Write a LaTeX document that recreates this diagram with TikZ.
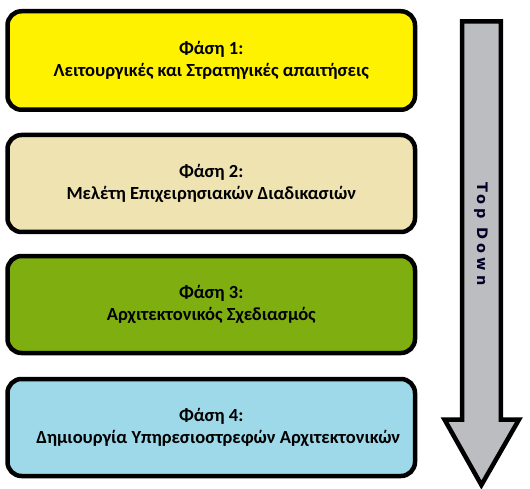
\documentclass[tikz,border=0pt]{standalone}
\usepackage{fontspec}
\setmainfont{Carlito}
\newfontfamily\arrowfont[LetterSpace=28]{DejaVu Sans}
\definecolor{phaseyellow}{HTML}{FFF200}
\definecolor{phasetan}{HTML}{EEE3B1}
\definecolor{phasegreen}{HTML}{7EAE10}
\definecolor{phaseblue}{HTML}{9DD9E9}
\definecolor{arrowgray}{HTML}{BCBDC1}
\tikzset{
  phasebox/.style={draw=black, line width=4.5pt, rounded corners=14pt,
    minimum width=407.5pt, minimum height=97pt, align=center,
    font=\fontsize{18.5}{22.5}\selectfont\bfseries, text=black, inner sep=0pt},
  arrowshape/.style={draw=black, line width=4.5pt, fill=arrowgray, line join=miter},
}
\begin{document}
\begin{tikzpicture}[x=1pt, y=-1pt]
\useasboundingbox (0,0) rectangle (530,489);
\node[phasebox, fill=phaseyellow, minimum height=98.5pt] (p1) at (211.25,60.5)
  {Φάση 1:\\Λειτουργικές και Στρατηγικές απαιτήσεις};
\node[phasebox, fill=phasetan] (p2) at (211.25,183.5)
  {Φάση 2:\\Μελέτη Επιχειρησιακών Διαδικασιών};
\node[phasebox, fill=phasegreen] (p3) at (211.25,304.5)
  {Φάση 3:\\Αρχιτεκτονικός Σχεδιασμός};
\node[phasebox, fill=phaseblue] (p4) at (211.25,427.5)
  {Φάση 4:\\\hspace*{14pt}Δημιουργία Υπηρεσιοστρεφών Αρχιτεκτονικών};
\draw[arrowshape] (462,21.5) -- (500.8,21.5) -- (500.8,419.5) -- (519,419.5)
  -- (481.4,485) -- (444.5,419.5) -- (462,419.5) -- cycle;
\node[rotate=-90, font=\arrowfont\bfseries\fontsize{14.5}{16}\selectfont, text=black!85!blue, inner sep=0pt]
  (td) at (481,234) {Top Down};
\end{tikzpicture}
\end{document}
